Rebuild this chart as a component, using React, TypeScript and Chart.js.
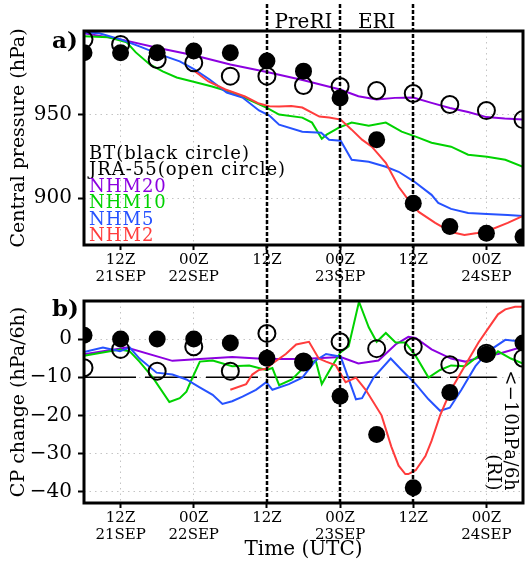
import React, { useEffect, useRef } from 'react';
import { Chart, registerables } from 'chart.js';

Chart.register(...registerables);

// ---------- shared time axis (hours since 21SEP 06Z) ----------
const HOURS_6H = [0, 6, 12, 18, 24, 30, 36, 42, 48, 54, 60, 66, 72];
const TICK_HOURS = [6, 18, 30, 42, 54, 66];
const TICK_LABELS = [['12Z', '21SEP'], ['00Z', '22SEP'], ['12Z'], ['00Z', '23SEP'], ['12Z'], ['00Z', '24SEP']];
const PHASE_LINES = [30, 42, 54];
const PHASE_LABELS = [
  { text: 'PreRI', at: 36 },
  { text: 'ERI', at: 48 },
];

// ---------- panel a: central pressure (hPa) ----------
const Y_TICKS_A = [900, 950];
const BT_CP = [987, 987, 987, 988, 987, 982, 976, 960, 935, 897, 883, 879, 877];
const JRA_CP = [995, 992, 983, 981, 973, 973, 967.4, 966.8, 964.4, 962.6, 956, 952.4, 947];

const NHM20_A_H = [0, 6, 12, 18, 24, 30, 36, 42, 45, 48, 51, 54, 57, 60, 63, 66, 69, 72];
const NHM20_A = [998.6, 995, 990, 985.5, 980, 975.5, 970.5, 965, 961, 959, 960, 960.2, 957, 954, 951.5, 948.5, 947.6, 947];

const NHM10_A_H = [0, 4, 7, 8.5, 10.8, 12.9, 15.2, 17.8, 21, 24.3, 27, 30, 32, 35.8, 37.4, 39, 39.8, 41.8, 43.9, 46.7, 49.5, 52.1, 54.4, 57, 60.2, 63, 66.1, 69.1, 72];
const NHM10_A = [996.8, 996.2, 993.2, 987.2, 980, 975.8, 972.2, 969.8, 966.8, 963.2, 959, 954, 950, 948.2, 945.2, 935.6, 938, 942.2, 945.2, 943.4, 945.2, 939.8, 936.8, 933.2, 930.8, 926, 924.8, 923, 918.8];

const NHM5_A_H = [0, 2.5, 6, 9.1, 12.4, 15.7, 18.1, 20.6, 23.4, 26, 28.7, 30.4, 32, 35.8, 38.9, 40.2, 42.1, 43.9, 46.7, 49.5, 51.6, 54.2, 57, 58.1, 60.2, 63, 66.1, 69.5, 72];
const NHM5_A = [999.2, 998.6, 995, 990.8, 986, 981.8, 977, 971, 963.2, 960.2, 952.5, 949.4, 944, 939.8, 939.2, 935, 934.4, 923, 921.8, 918.8, 915.8, 909.8, 902, 897.2, 893.6, 891.2, 890.6, 890, 889.4];

const NHM2_A_H = [18, 20.4, 23.2, 26.4, 28.7, 30.4, 32, 34, 35.8, 38.6, 40.2, 42.1, 43.9, 45.6, 47.2, 49.5, 51.6, 53.2, 54.9, 57.6, 60.2, 62.4, 64.5, 66.6, 69.5, 72];
const NHM2_A = [976.4, 969.8, 965, 960.8, 956.6, 955, 954.8, 955.2, 954.2, 948.8, 948.2, 947, 941, 935, 930.8, 921.2, 906.8, 899, 891.8, 885.2, 879.8, 878, 879.2, 881, 885.2, 889.4];

// ---------- panel b: CP change (hPa/6h) ----------
const Y_TICKS_B = [0, -10, -20, -30, -40];
const RI_THRESHOLD = -10;
const RI_LINE_END_HOUR = 67.7;
const BT_CPC = [1, 0, 0, 0, -1, -5, -6, -15, -25, -39, -14, -4, -1];
const JRA_CPC = [-7.5, -2.7, -8.4, -2, -8.4, 1.5, -6, -0.7, -2.5, -2, -6.7, -3.7, -5];

const NHM20_B_H = [0, 7, 14.5, 19, 24.3, 29.9, 35.8, 42.1, 45, 48.3, 51.1, 53.2, 54.4, 57, 60.2, 62.5, 65.8, 67.9, 72];
const NHM20_B = [-4, -2.2, -5.7, -5.2, -4.7, -5.2, -5.2, -4.7, -6.4, -5.6, -1.4, 0.6, 0.3, -2.7, -5.1, -5.9, -4.4, -3.9, -2];

const NHM10_B_H = [0, 5.9, 7.5, 9.1, 11.3, 14, 15.7, 16.8, 17.6, 19, 21.1, 24.3, 27.1, 29.9, 30.9, 32, 34.1, 36.4, 38, 39, 40.5, 42.1, 43.4, 45.1, 46.7, 48, 49.5, 51.1, 52.7, 54.4, 56.5, 58.4, 60.2, 62.5, 64.7, 66.8, 67.9, 70, 72];
const NHM10_B = [-4.4, -2.7, -3.2, -5.9, -10.1, -16.5, -15.5, -13.8, -10.8, -5.9, -5.6, -7.1, -6.9, -8.1, -7.6, -12.1, -10.6, -6.9, -5.6, -11.8, -7.6, -3.4, -1.9, 9.8, 3.1, -0.7, 1.6, -0.9, -0.9, -4.4, -10.1, -8.1, -6.9, -7.1, -4.4, -5.1, -3.2, -5.1, -6.4];

const NHM5_B_H = [0, 3.1, 5.9, 7.5, 9.1, 11.9, 14.5, 16.8, 18.9, 21.1, 22.7, 24.3, 26, 28.2, 29.9, 30.9, 33.6, 35.8, 38, 39.7, 42.1, 44.6, 45.6, 47.5, 50.3, 52.1, 54.4, 56.5, 58.4, 60, 61.9, 64.2, 66.3, 69.1, 72];
const NHM5_B = [-3.4, -2.2, -3.2, -2.2, -5.1, -8.8, -9.3, -10.6, -12.6, -14.6, -17, -16.3, -15.1, -13.3, -11.3, -13.3, -11.8, -10.1, -5.6, -3.9, -4.6, -15.8, -15.5, -10.1, -5.1, -8.1, -11.8, -15.8, -18.8, -18, -13.3, -7.1, -3.2, -0.2, -0.7];

const NHM2_B_H = [24, 26.6, 27.6, 28.7, 29.9, 30.9, 33.1, 34.8, 36.9, 38.5, 39.7, 41.3, 42.9, 44.6, 46.2, 48.8, 50.4, 51.6, 52.7, 53.2, 54.4, 56, 57, 58.4, 60.2, 62.5, 64.7, 66.3, 67.9, 69.1, 70.7, 72];
const NHM2_B = [-13.3, -11.8, -9.3, -8.1, -7.8, -6.4, -3.9, -1.4, -0.7, -5.1, -5.9, -6.9, -11.3, -10.1, -13.3, -20, -28.2, -33.2, -35.4, -35.4, -34.4, -30.7, -26.7, -20, -13.3, -6.9, -0.9, 2.8, 6.5, 7.8, 8.5, 8.5];

// ---------- styling ----------
const C_NHM20 = '#8c00e0';
const C_NHM10 = '#00d200';
const C_NHM5 = '#2652ff';
const C_NHM2 = '#ff3c3c';
const FONT = '"DejaVu Serif", serif';

const LEGEND_ITEMS = [
  { text: 'BT(black circle)', color: '#000' },
  { text: 'JRA-55(open circle)', color: '#000' },
  { text: 'NHM20', color: C_NHM20 },
  { text: 'NHM10', color: C_NHM10 },
  { text: 'NHM5', color: C_NHM5 },
  { text: 'NHM2', color: C_NHM2 },
];

Chart.defaults.font.family = FONT;
Chart.defaults.color = '#000';

const pts = (xs: number[], ys: number[]) => xs.map((x, i) => ({ x, y: ys[i] }));

const lineDs = (label: string, xs: number[], ys: number[], color: string) => ({
  label,
  data: pts(xs, ys),
  borderColor: color,
  backgroundColor: color,
  borderWidth: 2,
  pointRadius: 0,
  tension: 0,
});

const btDs = (ys: number[]) => ({
  label: 'BT',
  data: pts(HOURS_6H, ys),
  showLine: false,
  pointRadius: 8.5,
  pointBackgroundColor: '#000',
  pointBorderColor: '#000',
  pointBorderWidth: 0,
  borderWidth: 0,
});

const jraDs = (ys: number[]) => ({
  label: 'JRA-55',
  data: pts(HOURS_6H, ys),
  showLine: false,
  pointRadius: 8.5,
  pointBackgroundColor: 'rgba(0,0,0,0)',
  pointBorderColor: '#000',
  pointBorderWidth: 2,
  borderWidth: 0,
});

const xScale = (withTitle: boolean, height: number) => ({
  type: 'linear',
  min: 0,
  max: 72,
  afterBuildTicks: (s: any) => {
    s.ticks = TICK_HOURS.map((v) => ({ value: v }));
  },
  afterFit: (s: any) => {
    s.height = height;
  },
  ticks: {
    autoSkip: false,
    maxRotation: 0,
    padding: 1,
    font: { size: 15, lineHeight: 1.15 },
    color: '#000',
    callback: (_v: any, i: number) => TICK_LABELS[i],
  },
  grid: {
    color: '#c4c4c4',
    lineWidth: 1,
    tickLength: 5,
    tickColor: '#000',
    tickWidth: 2,
  },
  border: { display: false, dash: [1.5, 4] },
  title: withTitle
    ? { display: true, text: 'Time (UTC)', font: { size: 20, lineHeight: 1.1 }, padding: { top: 0, bottom: 0 }, color: '#000' }
    : { display: false },
});

const yScale = (min: number, max: number, ticks: number[], title: string) => ({
  type: 'linear',
  min,
  max,
  afterBuildTicks: (s: any) => {
    s.ticks = ticks.map((v) => ({ value: v }));
  },
  afterFit: (s: any) => {
    s.width = 84;
  },
  ticks: {
    padding: 6,
    font: { size: 20 },
    color: '#000',
    callback: (v: any) => String(v).replace('-', '\u2212'),
  },
  grid: {
    color: '#c4c4c4',
    lineWidth: 1,
    tickLength: 6,
    tickColor: '#000',
    tickWidth: 2,
  },
  border: { display: false, dash: [1.5, 4] },
  title: { display: true, text: title, font: { size: 19, lineHeight: 1.2 }, padding: { top: 8, bottom: 0 }, color: '#000' },
});

const drawFrame = (chart: any) => {
  const { ctx, chartArea: a } = chart;
  ctx.save();
  ctx.lineWidth = 3;
  ctx.strokeStyle = '#000';
  ctx.strokeRect(a.left, a.top, a.right - a.left, a.bottom - a.top);
  ctx.restore();
};

const drawPhaseLines = (chart: any, y0: number, y1: number) => {
  const { ctx, scales } = chart;
  ctx.save();
  ctx.strokeStyle = '#000';
  ctx.lineWidth = 2.5;
  ctx.setLineDash([4, 2]);
  for (const h of PHASE_LINES) {
    const px = Math.round(scales.x.getPixelForValue(h));
    ctx.beginPath();
    ctx.moveTo(px, y0);
    ctx.lineTo(px, y1);
    ctx.stroke();
  }
  ctx.restore();
};

const panelAPlugin = {
  id: 'panelA',
  afterDatasetsDraw(chart: any) {
    const { ctx, chartArea: a, scales } = chart;
    drawFrame(chart);
    drawPhaseLines(chart, 4, chart.height);
    ctx.save();
    ctx.fillStyle = '#000';
    ctx.textBaseline = 'middle';
    ctx.textAlign = 'center';
    ctx.font = `20px ${FONT}`;
    for (const p of PHASE_LABELS) {
      ctx.fillText(p.text, scales.x.getPixelForValue(p.at), a.top - 8);
    }
    ctx.textAlign = 'left';
    ctx.font = `bold 23px ${FONT}`;
    ctx.fillText('a)', a.left - 32, a.top + 11);
    ctx.font = `18px ${FONT}`;
    (ctx as any).letterSpacing = '1px';
    LEGEND_ITEMS.forEach((it, i) => {
      ctx.fillStyle = it.color;
      ctx.fillText(it.text, a.left + 5, a.top + 123 + i * 16.5);
    });
    (ctx as any).letterSpacing = '0px';
    ctx.restore();
  },
};

const panelBPlugin = {
  id: 'panelB',
  beforeDatasetsDraw(chart: any) {
    const { ctx, scales } = chart;
    const y = scales.y.getPixelForValue(RI_THRESHOLD);
    ctx.save();
    ctx.strokeStyle = '#000';
    ctx.lineWidth = 1.3;
    ctx.setLineDash([52, 9]);
    ctx.beginPath();
    ctx.moveTo(scales.x.getPixelForValue(0), y);
    ctx.lineTo(scales.x.getPixelForValue(RI_LINE_END_HOUR), y);
    ctx.stroke();
    ctx.restore();
  },
  afterDatasetsDraw(chart: any) {
    const { ctx, chartArea: a } = chart;
    drawFrame(chart);
    drawPhaseLines(chart, 0, a.bottom);
    ctx.save();
    ctx.fillStyle = '#000';
    ctx.textBaseline = 'middle';
    ctx.textAlign = 'left';
    ctx.font = `bold 23px ${FONT}`;
    ctx.fillText('b)', a.left - 32, a.top + 9);
    // rotated annotation
    ctx.translate(a.right - 13, a.bottom - 12);
    ctx.rotate(Math.PI / 2);
    ctx.textAlign = 'right';
    ctx.font = `18px ${FONT}`;
    (ctx as any).letterSpacing = '0.5px';
    ctx.fillText('<\u221210hPa/6h', 0, 0);
    ctx.fillText('(RI)', 0, 17);
    (ctx as any).letterSpacing = '0px';
    ctx.restore();
  },
};

const commonOptions = (top: number) => ({
  responsive: false,
  animation: false,
  layout: { autoPadding: false, padding: { left: 0, right: 2, top, bottom: 0 } },
  plugins: { legend: { display: false }, tooltip: { enabled: false }, title: { display: false } },
});

const configA: any = {
  type: 'line',
  data: {
    datasets: [
      btDs(BT_CP),
      jraDs(JRA_CP),
      lineDs('NHM2', NHM2_A_H, NHM2_A, C_NHM2),
      lineDs('NHM5', NHM5_A_H, NHM5_A, C_NHM5),
      lineDs('NHM10', NHM10_A_H, NHM10_A, C_NHM10),
      lineDs('NHM20', NHM20_A_H, NHM20_A, C_NHM20),
    ],
  },
  options: {
    ...commonOptions(31),
    scales: {
      x: xScale(false, 38),
      y: yScale(872, 1000, Y_TICKS_A, 'Central pressure (hPa)'),
    },
  },
  plugins: [panelAPlugin],
};

const configB: any = {
  type: 'line',
  data: {
    datasets: [
      btDs(BT_CPC),
      jraDs(JRA_CPC),
      lineDs('NHM2', NHM2_B_H, NHM2_B, C_NHM2),
      lineDs('NHM5', NHM5_B_H, NHM5_B, C_NHM5),
      lineDs('NHM10', NHM10_B_H, NHM10_B, C_NHM10),
      lineDs('NHM20', NHM20_B_H, NHM20_B, C_NHM20),
    ],
  },
  options: {
    ...commonOptions(6),
    scales: {
      x: xScale(true, 58),
      y: yScale(-43, 10, Y_TICKS_B, 'CP change (hPa/6h)'),
    },
  },
  plugins: [panelBPlugin],
};

export default function App() {
  const refA = useRef<HTMLCanvasElement>(null);
  const refB = useRef<HTMLCanvasElement>(null);

  useEffect(() => {
    const a = new Chart(refA.current as HTMLCanvasElement, configA);
    const b = new Chart(refB.current as HTMLCanvasElement, configB);
    return () => {
      a.destroy();
      b.destroy();
    };
  }, []);

  return (
    <div style={{ position: 'absolute', left: 0, top: 0, width: 525, height: 561, background: '#fff' }}>
      <canvas ref={refA} width={525} height={283} style={{ position: 'absolute', left: 0, top: 0, display: 'block' }} />
      <canvas ref={refB} width={525} height={278} style={{ position: 'absolute', left: 0, top: 283, display: 'block' }} />
    </div>
  );
}
